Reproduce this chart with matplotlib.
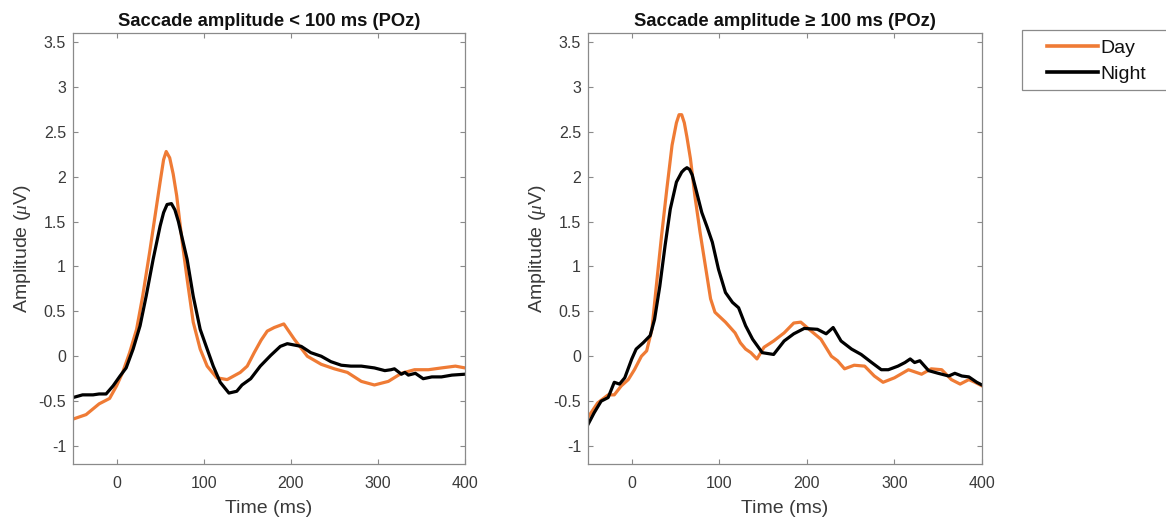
import matplotlib
matplotlib.use("Agg")
import matplotlib.pyplot as plt
from matplotlib.patches import Rectangle

plt.rcParams['font.family'] = ['Liberation Sans', 'DejaVu Sans']
plt.rcParams['axes.unicode_minus'] = False
plt.rcParams['mathtext.fontset'] = 'custom'
plt.rcParams['mathtext.it'] = 'Liberation Serif:italic'

# ---- Data ----
# Left panel: saccade amplitude < 100 ms
t_day_l = [-50, -35, -20, -8, 0, 7, 15, 23, 30, 38, 46, 50, 54, 57, 61, 65, 69, 75, 81, 88, 96,
           104, 115, 127, 142, 150, 158, 166, 173, 181, 192, 204, 219, 235, 250, 265, 281,
           296, 312, 327, 342, 358, 373, 389, 400]
v_day_l = [-0.70, -0.65, -0.53, -0.47, -0.33, -0.18, 0.04, 0.30, 0.67, 1.16, 1.68, 1.94, 2.19,
           2.28, 2.21, 2.03, 1.79, 1.30, 0.86, 0.38, 0.08, -0.11, -0.24, -0.26, -0.18, -0.11,
           0.04, 0.18, 0.28, 0.32, 0.36, 0.19, 0.00, -0.09, -0.14, -0.18, -0.28, -0.32, -0.28,
           -0.19, -0.15, -0.15, -0.13, -0.11, -0.13]

t_night_l = [-50, -39, -27, -20, -12, -4, 4, 11, 19, 27, 34, 42, 50, 54, 58, 63, 67, 71, 75, 81,
             88, 96, 104, 111, 119, 129, 138, 144, 154, 165, 177, 188, 196, 212, 223, 235, 246,
             258, 269, 281, 296, 308, 315, 319, 327, 331, 335, 343, 352, 362, 373, 385, 400]
v_night_l = [-0.46, -0.43, -0.43, -0.42, -0.42, -0.33, -0.22, -0.13, 0.08, 0.34, 0.67, 1.08,
             1.45, 1.60, 1.69, 1.70, 1.63, 1.50, 1.33, 1.08, 0.67, 0.30, 0.08, -0.11, -0.29,
             -0.41, -0.39, -0.32, -0.25, -0.11, 0.01, 0.11, 0.14, 0.11, 0.04, 0.0, -0.06,
             -0.10, -0.11, -0.11, -0.13, -0.16, -0.15, -0.14, -0.20, -0.18, -0.21, -0.19,
             -0.25, -0.23, -0.23, -0.21, -0.20]

# Right panel: saccade amplitude >= 100 ms
t_day_r = [-50, -39, -27, -20, -12, -4, 3, 11, 17, 23, 28, 34, 40, 46, 51, 54, 57, 60, 63, 67,
           72, 78, 84, 90, 95, 107, 118, 124, 130, 136, 143, 151, 162, 174, 185, 193, 205, 216,
           228, 235, 243, 254, 266, 277, 287, 300, 316, 331, 342, 354, 365, 375, 385, 392, 400]
v_day_r = [-0.68, -0.52, -0.43, -0.43, -0.33, -0.26, -0.15, 0.0, 0.06, 0.30, 0.78, 1.34, 1.86,
           2.35, 2.60, 2.69, 2.69, 2.60, 2.44, 2.20, 1.79, 1.38, 1.01, 0.64, 0.49, 0.38, 0.26,
           0.15, 0.08, 0.04, -0.03, 0.10, 0.17, 0.26, 0.37, 0.38, 0.28, 0.19, 0.0, -0.05,
           -0.14, -0.10, -0.11, -0.22, -0.29, -0.24, -0.15, -0.20, -0.14, -0.15, -0.26, -0.31,
           -0.26, -0.29, -0.33]

t_night_r = [-50, -43, -35, -27, -20, -14, -8, 0, 5, 13, 21, 26, 32, 38, 44, 51, 57, 60, 63, 66,
             69, 74, 80, 86, 92, 99, 107, 115, 122, 130, 138, 149, 162, 174, 185, 197, 212, 222,
             230, 239, 251, 262, 274, 285, 293, 304, 312, 318, 323, 329, 339, 350, 362, 369,
             377, 385, 394, 400]
v_night_r = [-0.76, -0.63, -0.50, -0.46, -0.29, -0.31, -0.24, -0.03, 0.08, 0.15, 0.23, 0.41,
             0.78, 1.23, 1.64, 1.94, 2.05, 2.08, 2.10, 2.08, 2.02, 1.83, 1.60, 1.44, 1.27, 0.97,
             0.71, 0.60, 0.54, 0.34, 0.19, 0.04, 0.02, 0.17, 0.25, 0.31, 0.30, 0.25, 0.32, 0.17,
             0.08, 0.02, -0.07, -0.15, -0.15, -0.11, -0.07, -0.03, -0.07, -0.05, -0.16,
             -0.19, -0.22, -0.19, -0.22, -0.23, -0.29, -0.32]

titles = ['Saccade amplitude < 100 ms (POz)', 'Saccade amplitude \u2265 100 ms (POz)']
series_names = ['Day', 'Night']
x_ticks = [0, 100, 200, 300, 400]
y_ticks = [-1, -0.5, 0, 0.5, 1, 1.5, 2, 2.5, 3, 3.5]

day_color = '#EF7B35'
night_color = '#000000'
text_color = '#3a3a3a'
spine_color = '#8a8a8a'

W, H = 1166, 524
fig = plt.figure(figsize=(W / 100, H / 100), dpi=100)
positions = [[73 / W, 1 - 464 / H, 392 / W, 431 / H],
             [588 / W, 1 - 464 / H, 394 / W, 431 / H]]
data = [(t_day_l, v_day_l, t_night_l, v_night_l),
        (t_day_r, v_day_r, t_night_r, v_night_r)]

handles = None
for i, pos in enumerate(positions):
    ax = fig.add_axes(pos)
    td, vd, tn, vn = data[i]
    h1, = ax.plot(td, vd, color=day_color, lw=2.3, label=series_names[0])
    h2, = ax.plot(tn, vn, color=night_color, lw=2.3, label=series_names[1])
    handles = [h1, h2]
    ax.set_xlim(-50, 400)
    ax.set_ylim(-1.2, 3.6)
    ax.set_xticks(x_ticks)
    ax.set_yticks(y_ticks)
    ax.set_yticklabels([('%g' % v) for v in y_ticks])
    ax.tick_params(direction='in', length=3.5, width=0.8, top=True, right=True,
                   labelsize=11.5, colors=spine_color, labelcolor=text_color)
    ax.tick_params(axis='x', pad=9)
    ax.tick_params(axis='y', pad=5)
    for s in ax.spines.values():
        s.set_color(spine_color)
        s.set_linewidth(0.9)
    ax.set_xlabel('Time (ms)', fontsize=14, color=text_color, labelpad=6)
    ax.set_ylabel(r'Amplitude ($\mu$V)', fontsize=14, color=text_color, labelpad=4)
    ax.set_title(titles[i], fontsize=13.2, fontweight='bold', color='#111111', pad=5)

# legend frame
fig.patches.append(Rectangle((1022 / W, 1 - 90 / H), 160 / W, 60 / H,
                             transform=fig.transFigure, facecolor='white',
                             edgecolor='#8a8a8a', linewidth=0.9, zorder=1))
leg = fig.legend(handles, series_names, loc='upper left',
                 bbox_to_anchor=(1047 / W, 1 - 39 / H), fontsize=14,
                 frameon=False, handlelength=2.6, handletextpad=0.15,
                 borderpad=0, labelspacing=0.45, borderaxespad=0)
for line in leg.get_lines():
    line.set_linewidth(2.6)
for txt in leg.get_texts():
    txt.set_color('#111111')

fig.savefig('out.png', dpi=100)
